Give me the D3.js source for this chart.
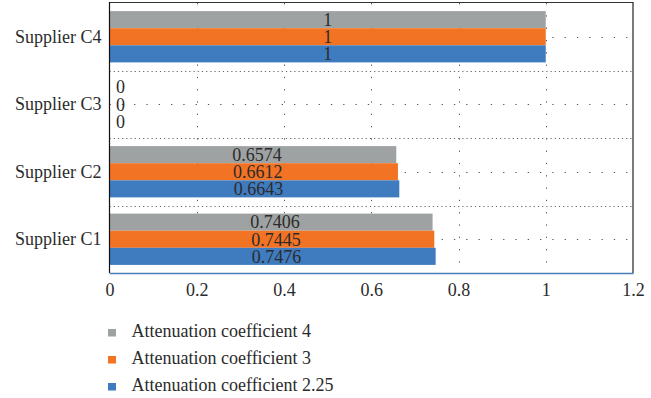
<!DOCTYPE html>
<html><head><meta charset="utf-8">
<script src="https://cdn.jsdelivr.net/npm/d3@7"></script>
<style>body{margin:0;background:#fff}svg{display:block}text{font-family:"Liberation Serif","Times New Roman",serif;fill:#2b2b2b}</style>
</head><body><svg id="c" width="651" height="398"></svg>
<script>
const categories = ["Supplier C4", "Supplier C3", "Supplier C2", "Supplier C1"];
const seriesNames = ["Attenuation coefficient 4", "Attenuation coefficient 3", "Attenuation coefficient 2.25"];
const coef4 = [1, 0, 0.6574, 0.7406];
const coef3 = [1, 0, 0.6612, 0.7445];
const coef225 = [1, 0, 0.6643, 0.7476];
const seriesValues = [coef4, coef3, coef225];
const labels = [["1","0","0.6574","0.7406"],["1","0","0.6612","0.7445"],["1","0","0.6643","0.7476"]];
const xTicks = [0, 0.2, 0.4, 0.6, 0.8, 1, 1.2];
const colors = ["#9fa2a3", "#f37324", "#3f7bbf"];

const svg = d3.select("#c");
const L = 109.5, R = 633, T = 3, B = 273;
const x = d3.scaleLinear().domain([0, 1.2]).range([L, R]);
const y = d3.scaleBand().domain(categories).range([T, B]).paddingInner(0.24).paddingOuter(0.12);
const ys = d3.scaleBand().domain(seriesNames).range([0, y.bandwidth()]);
const gapHalf = (y.step() - y.bandwidth()) / 2;

// gridlines
const g = svg.append("g");
g.selectAll(".vg").data(xTicks.filter(d => d > 0 && d < 1.2)).join("line")
  .attr("x1", d => Math.round(x(d)) + 0.5).attr("x2", d => Math.round(x(d)) + 0.5)
  .attr("y1", T).attr("y2", B)
  .attr("stroke", "#555").attr("stroke-width", 1).attr("stroke-dasharray", "1.3,11");
const bounds = categories.slice(1).map(c => y(c) - gapHalf);
g.selectAll(".hb").data(bounds).join("line")
  .attr("x1", L).attr("x2", R).attr("y1", d => Math.round(d) + 0.5).attr("y2", d => Math.round(d) + 0.5)
  .attr("stroke", "#666").attr("stroke-width", 1).attr("stroke-dasharray", "1.2,3");
g.selectAll(".hm").data(categories).join("line")
  .attr("x1", L).attr("x2", R)
  .attr("y1", d => Math.round(y(d) + y.bandwidth() / 2) + 0.5).attr("y2", d => Math.round(y(d) + y.bandwidth() / 2) + 0.5)
  .attr("stroke", "#555").attr("stroke-width", 1).attr("stroke-dasharray", "1.3,11");

// bars
seriesNames.forEach((s, si) => {
  svg.append("g").selectAll("rect").data(seriesValues[si]).join("rect")
    .attr("x", x(0)).attr("width", d => x(d) - x(0))
    .attr("y", (d, i) => y(categories[i]) + ys(s)).attr("height", ys.bandwidth())
    .attr("fill", colors[si]);
});
// value labels
seriesNames.forEach((s, si) => {
  svg.append("g").selectAll("text").data(seriesValues[si]).join("text")
    .attr("x", d => d === 0 ? x(0) + 11 : (x(0) + x(d)) / 2 + (d < 1 ? 4 : 0))
    .attr("y", (d, i) => y(categories[i]) + ys(s) + ys.bandwidth() / 2)
    .attr("dy", "0.35em").attr("text-anchor", "middle").attr("font-size", 18)
    .text((d, i) => labels[si][i]);
});

// frame
svg.append("line").attr("x1", L).attr("x2", R).attr("y1", 2.5).attr("y2", 2.5).attr("stroke", "#333");
svg.append("line").attr("x1", R).attr("x2", R).attr("y1", 2).attr("y2", B).attr("stroke", "#222").attr("stroke-width", 1.2);
svg.append("line").attr("x1", L).attr("x2", L).attr("y1", 2).attr("y2", B).attr("stroke", "#111").attr("stroke-width", 1.2);
svg.append("line").attr("x1", L).attr("x2", R + 0.5).attr("y1", B + 0.5).attr("y2", B + 0.5).attr("stroke", "#4a7ebb").attr("stroke-width", 1.3);

// x axis labels
const xa = svg.append("g").attr("transform", `translate(0,${B})`)
  .call(d3.axisBottom(x).tickValues(xTicks).tickSize(0).tickPadding(0).tickFormat(d3.format("~g")));
xa.select(".domain").remove();
xa.selectAll("text").attr("font-size", 18).attr("y", 17).attr("dy", "0.35em")
  .style("font-family", '"Liberation Serif",serif').attr("fill", "#2b2b2b");

// y axis labels
const ya = svg.append("g").attr("transform", `translate(${L},0)`)
  .call(d3.axisLeft(y).tickSize(0).tickPadding(8));
ya.select(".domain").remove();
ya.selectAll("text").attr("font-size", 18).style("font-family", '"Liberation Serif",serif').attr("fill", "#2b2b2b");

// legend
const lg = svg.append("g");
seriesNames.forEach((s, i) => {
  const by = 337 + i * 27;
  lg.append("rect").attr("x", 108).attr("y", by - 8).attr("width", 8).attr("height", 7.5).attr("fill", colors[i]);
  lg.append("text").attr("x", 131.5).attr("y", by).attr("font-size", 18).text(s);
});
</script></body></html>
